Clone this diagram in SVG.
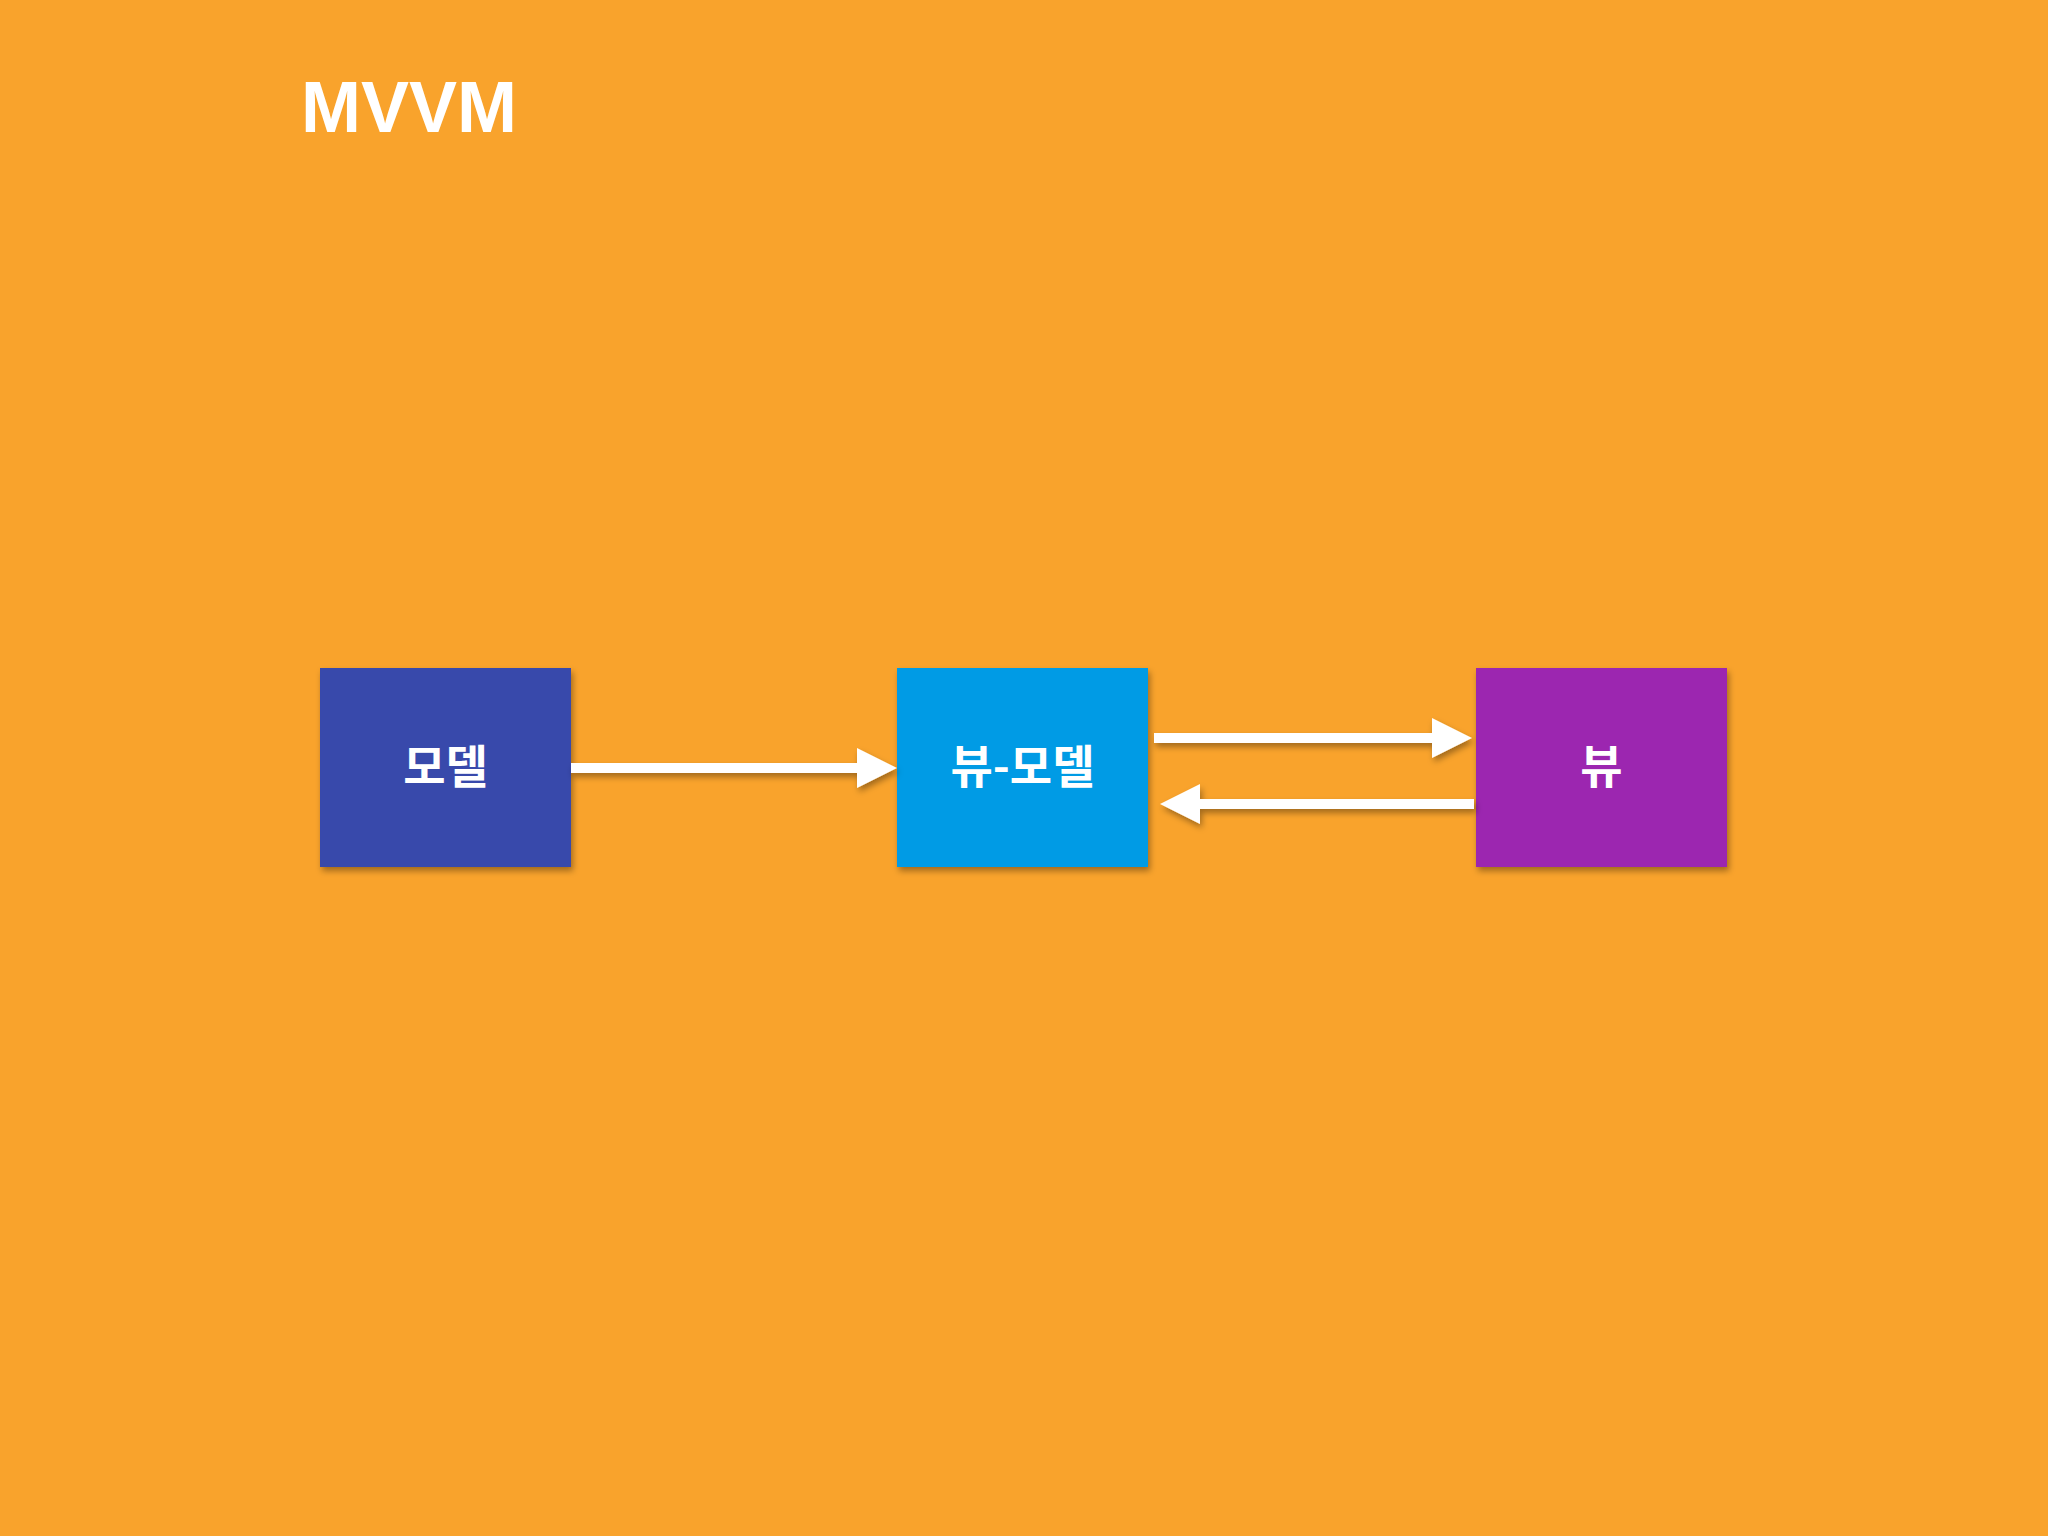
<svg xmlns="http://www.w3.org/2000/svg" width="2048" height="1536" viewBox="0 0 2048 1536">
  <defs>
    <filter id="sh" x="-10%" y="-10%" width="130%" height="130%">
      <feDropShadow dx="2" dy="4" stdDeviation="3" flood-color="#000" flood-opacity="0.35"/>
    </filter>
    <filter id="shc" filterUnits="userSpaceOnUse" x="0" y="0" width="2048" height="1536">
      <feDropShadow dx="2" dy="4" stdDeviation="3" flood-color="#000" flood-opacity="0.35"/>
    </filter>
    <marker id="ah" markerUnits="userSpaceOnUse" markerWidth="40" markerHeight="40" refX="1" refY="20" orient="auto" viewBox="0 0 40 40">
      <path d="M0,0 L40,20 L0,40 Z" fill="#ffffff"/>
    </marker>
  </defs>
  <style>
    .node rect { filter: url(#sh); }
    .label { font-family: "Noto Sans CJK KR", "Noto Sans", sans-serif; font-weight: 700; font-size: 46px; fill: #ffffff; text-anchor: middle; dominant-baseline: central; }
    .title { font-family: "Liberation Sans", Arial, sans-serif; font-weight: 700; font-size: 72px; fill: #ffffff; }
    .conn { filter: url(#shc); }
    .conn line { stroke: #ffffff; stroke-width: 10; marker-end: url(#ah); }
  </style>
  <rect x="0" y="0" width="2048" height="1536" fill="#F9A32C"/>
  <text class="title" x="301" y="132">MVVM</text>
  <g id="model" class="node">
    <rect x="320" y="668" width="251" height="199" fill="#3949AB"/>
    <text class="label" x="445.5" y="763">모델</text>
  </g>
  <g id="viewmodel" class="node">
    <rect x="897" y="668" width="251" height="199" fill="#039BE5"/>
    <text class="label" x="1022.5" y="763">뷰-모델</text>
  </g>
  <g id="view" class="node">
    <rect x="1476" y="668" width="251" height="199" fill="#9C27B0"/>
    <text class="label" x="1601.5" y="763">뷰</text>
  </g>
  <g id="connectors" class="conn">
    <line x1="571" y1="768" x2="858" y2="768"/>
    <line x1="1154" y1="738" x2="1433" y2="738"/>
    <line x1="1474" y1="804" x2="1199" y2="804"/>
  </g>
</svg>
